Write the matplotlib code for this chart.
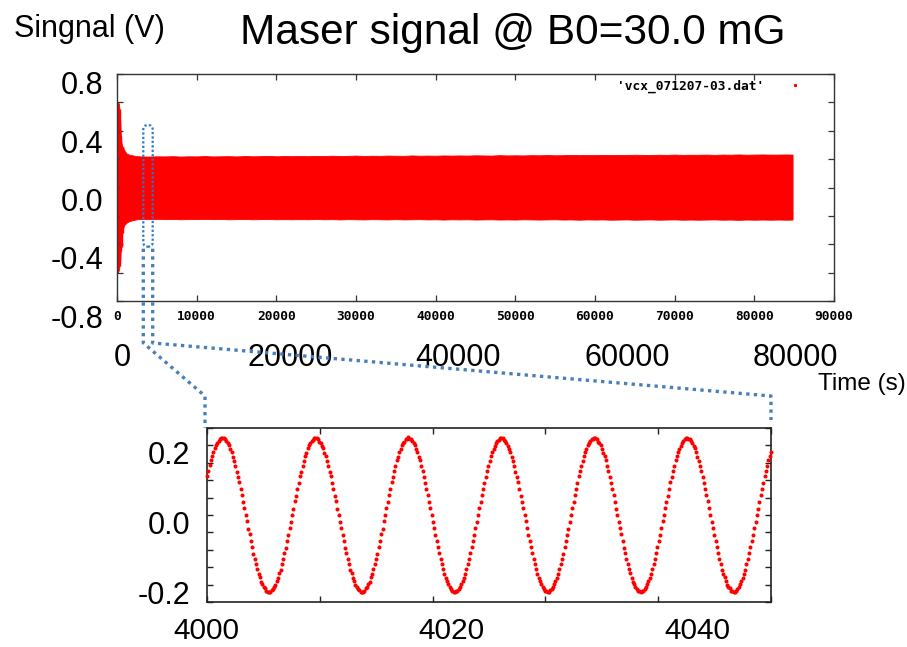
import numpy as np
import matplotlib
matplotlib.use("Agg")
import matplotlib.pyplot as plt
from matplotlib.lines import Line2D
from matplotlib.patches import FancyBboxPatch

plt.rcParams['font.family'] = ['Liberation Sans', 'DejaVu Sans']

# ---------------- data ----------------
# Top panel: envelope (upper / lower extremes) of the maser signal vs time (s)
env_time = [0, 100, 250, 400, 500, 600, 700, 850, 1000, 1200, 1500, 2000, 2500,
            3000, 4000, 5000, 6000, 7000, 8000, 9000, 10000, 11000, 12000,
            13000, 14000, 15000, 16000, 17000, 18000, 19000, 20000, 21000, 22000,
            23000, 24000, 25000, 26000, 27000, 28000, 29000, 30000, 31000, 32000,
            33000, 34000, 35000, 36000, 37000, 38000, 39000, 40000, 41000, 42000,
            43000, 44000, 45000, 46000, 47000, 48000, 49000, 50000, 51000, 52000,
            53000, 54000, 55000, 56000, 57000, 58000, 59000, 60000, 61000, 62000,
            63000, 64000, 65000, 66000, 67000, 68000, 69000, 70000, 71000, 72000,
            73000, 74000, 75000, 76000, 77000, 78000, 79000, 80000, 81000, 82000,
            83000, 84000, 84800]
env_upper = [0.55, 0.60, 0.59, 0.48, 0.34, 0.30, 0.29, 0.27, 0.255, 0.24, 0.232, 0.226, 0.221,
             0.219, 0.218, 0.220, 0.219, 0.221, 0.218, 0.220, 0.219, 0.222, 0.219,
             0.220, 0.221, 0.219, 0.222, 0.220, 0.221, 0.223, 0.220, 0.222, 0.221,
             0.222, 0.221, 0.223, 0.222, 0.224, 0.222, 0.223, 0.225, 0.222, 0.224,
             0.223, 0.225, 0.224, 0.223, 0.226, 0.224, 0.225, 0.224, 0.226, 0.225,
             0.226, 0.225, 0.227, 0.226, 0.225, 0.228, 0.226, 0.227, 0.226, 0.228,
             0.227, 0.229, 0.227, 0.228, 0.230, 0.228, 0.229, 0.228, 0.230, 0.229,
             0.230, 0.229, 0.231, 0.230, 0.229, 0.231, 0.230, 0.232, 0.230, 0.231,
             0.231, 0.232, 0.230, 0.232, 0.231, 0.233, 0.231, 0.232, 0.233, 0.232,
             0.232, 0.233, 0.232]
env_lower = [-0.50, -0.60, -0.58, -0.52, -0.40, -0.36, -0.30, -0.27, -0.26, -0.248, -0.238, -0.23, -0.224,
             -0.222, -0.223, -0.221, -0.223, -0.222, -0.224, -0.222, -0.223, -0.221, -0.223,
             -0.222, -0.224, -0.223, -0.222, -0.224, -0.223, -0.222, -0.224, -0.223, -0.224,
             -0.223, -0.224, -0.222, -0.224, -0.223, -0.225, -0.223, -0.224, -0.225, -0.223,
             -0.224, -0.225, -0.223, -0.225, -0.224, -0.223, -0.225, -0.224, -0.226, -0.224,
             -0.225, -0.224, -0.226, -0.225, -0.224, -0.226, -0.225, -0.226, -0.224, -0.225,
             -0.226, -0.225, -0.224, -0.226, -0.225, -0.227, -0.225, -0.226, -0.225, -0.227,
             -0.226, -0.225, -0.227, -0.226, -0.225, -0.227, -0.226, -0.225, -0.227, -0.226,
             -0.227, -0.226, -0.225, -0.227, -0.226, -0.228, -0.226, -0.227, -0.226, -0.227,
             -0.226, -0.227, -0.226]
# early ringing spikes (time s, max V, min V)
spike_time = [60, 180, 330, 480, 560, 640, 720, 800]
spike_max = [0.60, 0.58, 0.55, 0.36, 0.30, 0.29, 0.285, 0.27]
spike_min = [-0.60, -0.56, -0.55, -0.45, -0.42, -0.42, -0.32, -0.28]

top_xticks = [0, 10000, 20000, 30000, 40000, 50000, 60000, 70000, 80000, 90000]
top_yticks = [-0.8, -0.6, -0.4, -0.2, 0.0, 0.2, 0.4, 0.6, 0.8]
big_top_xticks = [0, 20000, 40000, 60000, 80000]
big_top_yticks = [-0.8, -0.4, 0.0, 0.4, 0.8]
big_top_ylabels = ['-0.8', '-0.4', '0.0', '0.4', '0.8']
legend_label = "'vcx_071207-03.dat'"

# zoom window marked on the top panel (time s, signal V)
zoom_t = (3300, 4480)
zoom_v = (-0.417, 0.44)

# Bottom panel: sampled signal, mV, starting at t = 4000 s, sample step zoom_dt
zoom_t0 = 4000.0
zoom_dt = 0.11442
zoom_mv = [
    112, 127, 143, 157, 170, 182, 192, 201, 208, 214, 218, 221,
    222, 221, 218, 213, 207, 200, 190, 181, 168, 155, 142, 125,
    109, 94, 74, 58, 37, 20, 1, -18, -39, -56, -76, -92,
    -111, -125, -142, -155, -170, -179, -192, -198, -208, -211, -218, -220,
    -222, -220, -216, -213, -206, -200, -190, -181, -168, -157, -140, -127,
    -109, -94, -74, -58, -37, -20, 1, 18, 39, 56, 76, 92,
    111, 125, 142, 155, 170, 179, 192, 200, 206, 213, 216, 220,
    221, 220, 218, 211, 208, 198, 192, 179, 170, 155, 142, 125,
    111, 92, 76, 56, 39, 18, -1, -20, -37, -58, -74, -94,
    -109, -127, -140, -157, -168, -181, -190, -200, -206, -213, -216, -220,
    -221, -221, -218, -211, -208, -198, -192, -179, -170, -155, -142, -125,
    -111, -92, -76, -56, -39, -18, -1, 20, 37, 58, 74, 94,
    110, 127, 140, 157, 168, 181, 190, 200, 208, 211, 218, 219,
    223, 219, 217, 213, 206, 200, 190, 181, 168, 157, 140, 127,
    110, 93, 75, 57, 38, 19, 0, -19, -38, -57, -75, -93,
    -110, -126, -141, -156, -169, -180, -191, -199, -207, -212, -217, -220,
    -222, -219, -217, -212, -207, -199, -191, -180, -169, -156, -141, -126,
    -110, -93, -75, -57, -38, -19, 0, 19, 38, 57, 75, 93,
    109, 126, 142, 155, 169, 181, 191, 198, 207, 213, 216, 220,
    221, 220, 216, 213, 206, 199, 191, 181, 168, 156, 141, 125,
    110, 94, 75, 56, 38, 20, 0, -18, -38, -58, -75, -92,
    -110, -127, -141, -155, -169, -181, -191, -198, -207, -213, -217, -218,
    -221, -220, -216, -212, -208, -199, -190, -180, -170, -156, -140, -126,
    -111, -93, -74, -57, -39, -19, 1, 19, 37, 57, 76, 93,
    111, 126, 140, 156, 170, 180, 190, 200, 206, 212, 218, 219,
    222, 220, 217, 211, 207, 200, 191, 179, 169, 157, 141, 126,
    109, 93, 76, 57, 38, 18, 0, -20, -38, -56, -75, -94,
    -110, -126, -142, -156, -168, -180, -192, -199, -206, -212, -218, -219,
    -221, -218, -217, -213, -207, -198, -191, -181, -169, -155, -141, -127,
    -110, -92, -75, -58, -38, -18, 0, 20, 38, 56, 75, 94,
    110, 127, 141, 157, 169, 181, 191, 199, 208, 212, 217, 220,
    221, 219, 218, 212, 206, 199, 192, 180, 168, 156, 142, 126,
    110, 93, 74, 57, 39, 19, -1, -19, -37, -57, -76, -93,
    -109, -126, -141, -157, -169, -179, -191, -200, -207, -211, -217, -219,
    -221, -220, -217, -212, -206, -199, -191, -180, -169, -157, -141, -125,
    -110, -93, -76, -57, -38, -20, 0, 18, 38, 57, 75, 92,
    111, 126, 141, 157, 169, 181,
]
bot_xticks = [4000, 4010, 4020, 4030, 4040, 4050]
bot_yticks = [-0.25, -0.2, -0.15, -0.1, -0.05, 0.0, 0.05, 0.1, 0.15, 0.2, 0.25]
big_bot_xticks = [4000, 4020, 4040]
big_bot_yticks = [-0.2, 0.0, 0.2]
big_bot_ylabels = ['-0.2', '0.0', '0.2']

# ---------------- layout helpers (pixel -> figure fraction) ----------------
W, H = 907, 647
fig = plt.figure(figsize=(W / 100, H / 100), dpi=100)


def fx(px):
    return px / W


def fy(py):
    return 1 - py / H


def rect(l, t, r, b):
    return [fx(l), fy(b), fx(r) - fx(l), fy(t) - fy(b)]


RED = '#ff0000'
gp_font = dict(family='DejaVu Sans Mono', weight='bold', size=9.3)

# ---------------- top panel (gnuplot-like) ----------------
ax = fig.add_axes(rect(117, 74, 834, 301))
ax.fill_between(env_time, env_lower, env_upper, color=RED, lw=0.6, edgecolor=RED)
ax.vlines(spike_time, spike_min, spike_max, color=RED, lw=1.0)
ax.set_xlim(0, 90000)
ax.set_ylim(-0.8, 0.8)
ax.set_xticks(top_xticks)
ax.set_xticklabels([str(v) for v in top_xticks], fontdict=gp_font)
ax.set_yticks(top_yticks)
ax.set_yticklabels([])
ax.tick_params(direction='in', length=4.5, width=0.9, top=True, right=True,
               color='#333333', pad=6.5)
for s in ax.spines.values():
    s.set_linewidth(1.0)
    s.set_color('#333333')
leg_handle = Line2D([], [], ls='none', marker='s', ms=1.2, color=RED)
ax.legend([leg_handle], [legend_label], loc='center right',
          bbox_to_anchor=((800.5 - 117) / 717, (301 - 86) / 227),
          frameon=False, markerfirst=False, handlelength=0.8,
          handletextpad=2.0, borderpad=0, borderaxespad=0,
          prop=dict(family='DejaVu Sans Mono', weight='bold', size=9.3))

# zoom window box on top panel
px_x = 90000 / 717
px_y = 1.6 / 227
box = FancyBboxPatch((zoom_t[0], zoom_v[0]), zoom_t[1] - zoom_t[0], zoom_v[1] - zoom_v[0],
                     boxstyle="round,pad=0,rounding_size=%f" % (4.6 * px_x),
                     mutation_aspect=px_y / px_x, transform=ax.transData,
                     fill=False, ec='#2878c8', lw=1.6, ls=(0, (1, 1)),
                     clip_on=False, zorder=5)
ax.add_patch(box)

# big overlay labels for top panel
axtx = fig.add_axes(rect(122, 342, 795, 343))
axtx.set_xlim(0, 80000)
axtx.set_xticks(big_top_xticks)
axtx.set_xticklabels([str(v) for v in big_top_xticks], fontsize=22)
axtx.tick_params(length=0, pad=0)
axtx.set_yticks([])
axtx.patch.set_visible(False)
for s in axtx.spines.values():
    s.set_visible(False)

axty = fig.add_axes(rect(117, 83, 118, 316))
axty.set_ylim(-0.8, 0.8)
axty.set_yticks(big_top_yticks)
axty.set_yticklabels(big_top_ylabels, fontsize=22)
axty.tick_params(length=0, pad=10)
axty.set_xticks([])
axty.patch.set_visible(False)
for s in axty.spines.values():
    s.set_visible(False)

# ---------------- bottom panel ----------------
ax2 = fig.add_axes(rect(207, 428, 771, 602))
t_zoom = zoom_t0 + zoom_dt * np.arange(len(zoom_mv))
ax2.plot(t_zoom, np.array(zoom_mv) / 1000.0, ls='none', marker='o', ms=2.9,
         color=RED, mec='none', clip_on=False, zorder=3)
ax2.set_xlim(4000, 4050)
ax2.set_ylim(-0.25, 0.25)
ax2.set_xticks(bot_xticks)
ax2.set_yticks(bot_yticks)
ax2.set_xticklabels([])
ax2.set_yticklabels([])
ax2.tick_params(direction='in', length=4, width=1.0, top=True, right=True, color='#222222')
for s in ax2.spines.values():
    s.set_linewidth(1.2)
    s.set_color('#222222')

axbx = fig.add_axes(rect(206, 616, 697, 617))
axbx.set_xlim(4000, 4040)
axbx.set_xticks(big_bot_xticks)
axbx.set_xticklabels([str(v) for v in big_bot_xticks], fontsize=21.5)
axbx.tick_params(length=0, pad=0)
axbx.set_yticks([])
axbx.patch.set_visible(False)
for s in axbx.spines.values():
    s.set_visible(False)

axby = fig.add_axes(rect(207, 453, 208, 593))
axby.set_ylim(-0.2, 0.2)
axby.set_yticks(big_bot_yticks)
axby.set_yticklabels(big_bot_ylabels, fontsize=22)
axby.tick_params(length=0, pad=12)
axby.set_xticks([])
axby.patch.set_visible(False)
for s in axby.spines.values():
    s.set_visible(False)

# ---------------- connectors ----------------
to_fig = fig.transFigure.inverted()


def data_fig(a, x, y):
    return to_fig.transform(a.transData.transform((x, y)))


bl = data_fig(ax, zoom_t[0], zoom_v[0])
br = data_fig(ax, zoom_t[1], zoom_v[0])
tl = data_fig(ax2, 4000, 0.25)
tr = data_fig(ax2, 4050, 0.25)
elb1 = fy(343)
elb2 = fy(396)
gap = fy(0) - fy(2)
con_kw = dict(transform=fig.transFigure, color='#4a7ebb', lw=2.4,
              ls=(0, (1, 1.3)), solid_capstyle='butt', dash_capstyle='butt', zorder=6)
fig.add_artist(Line2D([bl[0], bl[0], tl[0] - fx(2), tl[0] - fx(2)],
                      [bl[1] - gap, elb1, elb2, tl[1]], **con_kw))
fig.add_artist(Line2D([br[0], br[0], tr[0], tr[0]],
                      [br[1] - gap, elb1, elb2, tr[1] + (fy(420) - fy(428))], **con_kw))

# ---------------- titles ----------------
fig.text(fx(513), fy(44), 'Maser signal @ B0=30.0 mG', ha='center', va='baseline',
         fontsize=30.5)
fig.text(fx(89), fy(37), 'Singnal (V)', ha='center', va='baseline', fontsize=22)
fig.text(fx(862), fy(390), 'Time (s)', ha='center', va='baseline', fontsize=17.5)

fig.savefig('out.png', dpi=100)
